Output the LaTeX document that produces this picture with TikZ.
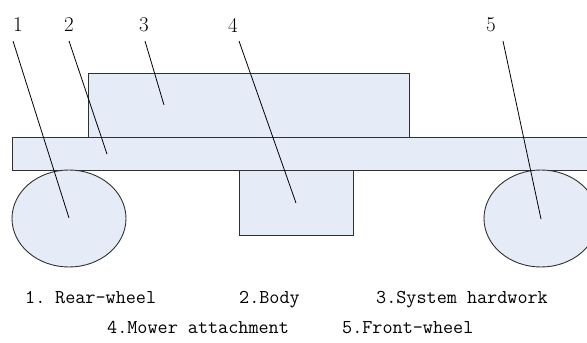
\documentclass[tikz,border=0pt]{standalone}
\usetikzlibrary{shapes.geometric}
\definecolor{partfill}{HTML}{E6ECF7}
\definecolor{partline}{HTML}{303030}
\begin{document}
\begin{tikzpicture}[x=1pt,y=-1pt,
  part/.style={draw=partline,fill=partfill,line width=0.9pt},
  leader/.style={draw=black,line width=0.8pt},
  num/.style={font=\fontsize{21}{21}\selectfont, inner sep=0pt},
  legend/.style={font=\fontsize{19.6}{20}\selectfont\ttfamily, anchor=base west, inner sep=0pt}]
\useasboundingbox (0,0) rectangle (587,343);
\begin{scope}
\clip (0,0) rectangle (587,343);
% parts
\node[part, rectangle, minimum width=321pt, minimum height=64pt, anchor=north west, inner sep=0pt] (hw) at (88,73) {};
\node[part, rectangle, minimum width=590pt, minimum height=33pt, anchor=north west, inner sep=0pt] (chassis) at (12,137) {};
\node[part, rectangle, minimum width=114pt, minimum height=65pt, anchor=north west, inner sep=0pt] (mower) at (239,170) {};
\node[part, ellipse, minimum width=114pt, minimum height=97pt, inner sep=0pt] (rear) at (69,218.5) {};
\node[part, ellipse, minimum width=114pt, minimum height=97pt, inner sep=0pt] (front) at (541,218.5) {};
\end{scope}
% number labels
\node[num] (n1) at (18,25) {1};
\node[num] (n2) at (69,25) {2};
\node[num] (n3) at (144,25) {3};
\node[num] (n4) at (233,25) {4};
\node[num] (n5) at (491,25) {5};
% leader ends
\coordinate (e1) at (69,218);
\coordinate (e2) at (107,154);
\coordinate (e3) at (164,105);
\coordinate (e4) at (296,203);
\coordinate (e5) at (541,219);
\draw[leader] (13,41) -- (e1);
\draw[leader] (69,41) -- (e2);
\draw[leader] (145,41) -- (e3);
\draw[leader] (239,41) -- (e4);
\draw[leader] (503,41) -- (e5);
% legend
\node[legend] (l1) at (25,303) {1.};
\node[legend] (l1b) at (55,303) {Rear-wheel};
\node[legend] (l2) at (239,303) {2.Body};
\node[legend] (l3) at (376,303) {3.System hardwork};
\node[legend] (l4) at (107,333) {4.Mower attachment};
\node[legend] (l5) at (342,333) {5.Front-wheel};
\end{tikzpicture}
\end{document}
